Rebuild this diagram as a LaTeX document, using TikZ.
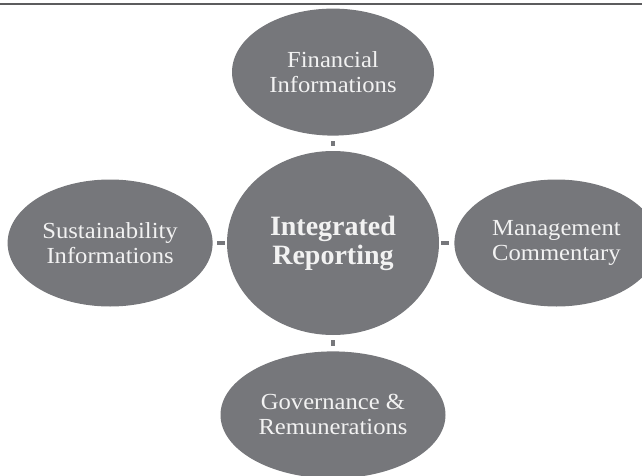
\documentclass[tikz,border=0pt]{standalone}
\usepackage{fontspec}
\setmainfont{Liberation Serif}
\newfontfamily\bubblefont[FakeStretch=1.07]{Liberation Serif}
\usepackage{xcolor}
\usepackage{tikz}
\usetikzlibrary{shapes,arrows,positioning}

\definecolor{bubblegray}{HTML}{76777B}
\definecolor{rulegray}{HTML}{5C5C5E}

\begin{document}
\begin{tikzpicture}[x=1pt, y=1pt, node distance=15pt]
    \tikzstyle{bubble} = [ellipse, fill=bubblegray, text=white!95!black, inner sep=0pt, align=center, minimum width=204pt, minimum height=127pt, font=\bubblefont\fontsize{23}{25}\selectfont]
    \tikzstyle{hub} = [bubble, minimum width=212pt, minimum height=184pt, font=\rmfamily\fontsize{28}{29}\selectfont\bfseries]
    \tikzstyle{tick} = [line width=3.5pt, draw=bubblegray, shorten >=5pt, shorten <=5pt]

    \useasboundingbox (0,0) rectangle (642,475);
    \clip (0,0) rectangle (642,475);

    % rule along the top
    \draw [rulegray, line width=1.2pt] (0,471) -- (642,471);

    % Integrated Reporting in the middle
    \node [hub] (core) at (333,232) {Integrated\\Reporting};

    % the four surrounding bubbles
    \node [bubble, above=15pt of core, minimum width=202pt] (fin) {Financial\\Informations};
    \node [bubble, left=14pt of core, minimum width=205pt] (sus) {Sustainability\\Informations};
    \node [bubble, right=15pt of core] (man) {Management\\Commentary};
    \node [bubble, below=16pt of core, minimum width=225pt] (gov) {Governance \&\\Remunerations};

    % short ticks between the bubbles
    \draw [tick] (core) -- (fin);
    \draw [tick, shorten >=4pt, shorten <=2pt] (core) -- (sus);
    \draw [tick, shorten >=5pt, shorten <=2pt] (core) -- (man);
    \draw [tick] (core) -- (gov);
\end{tikzpicture}
\end{document}
